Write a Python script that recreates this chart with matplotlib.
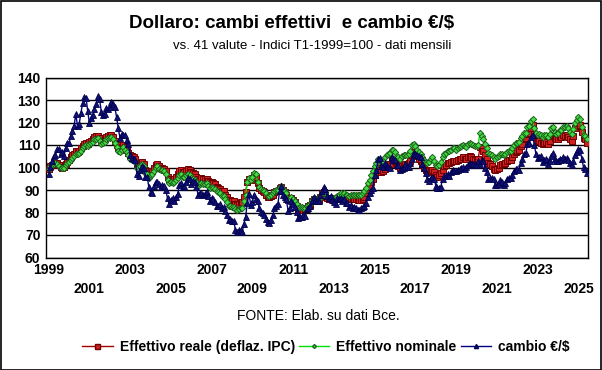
import numpy as np
import matplotlib.pyplot as plt
from matplotlib.lines import Line2D
from matplotlib.patches import Rectangle

# Indici T1-1999=100, dati mensili gen 1999 - giu 2025
reale = [
    99.5, 100.5, 101.2, 101.8, 102.0, 101.8, 101.0, 100.3, 99.8, 100.2, 101.5, 102.5,   # 1999
    103.5, 104.5, 105.5, 106.0, 107.5, 107.0, 107.5, 108.5, 109.5, 110.5, 111.0, 110.5,  # 2000
    111.5, 112.0, 112.5, 113.5, 113.8, 114.0, 113.0, 111.5, 111.8, 112.5, 113.5, 114.0,  # 2001
    114.5, 114.5, 113.5, 112.0, 110.0, 108.5, 108.0, 109.0, 110.0, 109.0, 108.0, 106.5,  # 2002
    105.5, 105.0, 104.5, 104.0, 101.5, 100.5, 101.5, 102.5, 101.5, 99.0, 98.5, 97.0,     # 2003
    98.0, 98.5, 100.0, 101.0, 101.5, 100.5, 100.0, 100.0, 99.5, 98.5, 96.0, 94.5,        # 2004
    95.0, 94.5, 95.0, 96.0, 97.0, 98.5, 99.0, 98.0, 98.0, 98.5, 99.5, 99.0,              # 2005
    98.0, 97.5, 97.0, 96.0, 95.0, 95.0, 95.5, 95.0, 95.0, 95.0, 94.0, 93.5,              # 2006
    93.5, 93.0, 92.5, 91.5, 91.0, 90.5, 89.5, 89.5, 88.0, 87.0, 85.5, 85.5,              # 2007
    85.0, 85.0, 84.0, 83.5, 84.0, 84.5, 84.5, 87.0, 89.0, 93.5, 95.0, 94.5,              # 2008
    95.5, 96.5, 96.0, 93.0, 91.0, 90.0, 89.5, 89.0, 88.0, 87.0, 87.0, 87.5,              # 2009
    88.0, 89.0, 89.5, 89.5, 91.0, 91.5, 90.0, 89.0, 88.0, 85.5, 85.5, 86.5,              # 2010
    85.5, 84.5, 83.0, 81.5, 81.5, 81.5, 81.0, 81.5, 82.0, 83.0, 83.5, 85.0,              # 2011
    86.0, 85.0, 85.0, 85.5, 87.0, 88.5, 89.0, 88.0, 86.5, 86.0, 86.5, 86.0,              # 2012
    85.5, 86.0, 86.5, 86.5, 87.0, 86.5, 86.5, 86.5, 86.5, 86.0, 86.5, 86.0,              # 2013
    86.0, 86.0, 85.5, 85.5, 85.5, 86.0, 87.0, 88.5, 90.0, 91.5, 93.5, 95.0,              # 2014
    96.5, 98.0, 100.0, 99.0, 98.0, 98.5, 99.5, 101.0, 101.5, 101.5, 103.5, 104.0,        # 2015
    103.0, 101.0, 100.5, 100.0, 100.5, 101.0, 101.5, 101.5, 102.0, 103.0, 106.0, 107.0,  # 2016
    106.0, 105.0, 104.0, 103.0, 101.0, 100.0, 99.0, 98.0, 98.5, 99.0, 99.0, 98.0,        # 2017
    96.5, 96.0, 96.5, 97.5, 99.0, 100.5, 101.0, 102.0, 102.0, 102.5, 103.0, 103.0,       # 2018
    103.0, 103.5, 104.0, 104.0, 104.5, 104.0, 104.0, 104.5, 105.0, 104.5, 104.0, 103.5,  # 2019
    103.0, 104.0, 109.0, 108.5, 107.5, 105.5, 104.0, 102.0, 101.5, 100.5, 99.5, 99.0,    # 2020
    99.5, 100.0, 101.0, 101.5, 101.5, 102.0, 103.0, 103.5, 103.5, 104.5, 106.0, 107.0,   # 2021
    107.5, 108.0, 109.5, 110.5, 112.5, 113.0, 115.0, 115.5, 117.5, 119.0, 115.0, 113.0,  # 2022
    112.0, 112.0, 111.0, 110.5, 111.0, 111.5, 110.5, 112.0, 114.0, 114.5, 113.0, 112.5,  # 2023
    112.5, 113.5, 113.5, 114.5, 114.0, 114.5, 113.5, 112.5, 112.0, 114.0, 117.5, 118.5,  # 2024
    120.0, 119.0, 116.0, 113.0, 112.5, 111.0,                                            # 2025
]

nominale = [
    99.5, 100.5, 101.0, 101.5, 101.8, 101.5, 100.8, 100.0, 99.6, 99.8, 101.0, 102.0,     # 1999
    102.5, 103.5, 104.2, 105.0, 106.0, 105.8, 106.5, 107.5, 108.5, 109.5, 110.0, 109.5,  # 2000
    110.5, 111.0, 111.5, 112.5, 112.8, 113.0, 112.0, 110.5, 110.8, 111.5, 112.5, 113.0,  # 2001
    113.0, 113.5, 112.5, 111.0, 109.0, 107.5, 107.0, 108.0, 109.0, 108.0, 107.0, 105.5,  # 2002
    104.0, 103.5, 103.0, 102.5, 100.0, 99.0, 100.5, 101.5, 100.5, 97.5, 97.0, 95.5,      # 2003
    96.5, 97.0, 98.5, 100.0, 100.5, 99.5, 99.0, 99.0, 98.5, 97.0, 94.5, 93.0,            # 2004
    93.5, 93.0, 93.5, 94.5, 95.5, 96.5, 97.0, 96.0, 96.0, 96.5, 97.0, 96.5,              # 2005
    95.5, 95.0, 94.5, 93.5, 92.0, 92.5, 93.0, 92.5, 92.5, 93.0, 92.0, 91.0,              # 2006
    91.5, 91.0, 90.5, 89.5, 89.0, 88.5, 87.5, 87.5, 86.0, 84.5, 83.0, 83.0,              # 2007
    82.5, 82.5, 81.5, 81.0, 81.5, 82.0, 82.0, 85.0, 88.0, 93.5, 95.5, 94.5,              # 2008
    96.0, 97.5, 97.0, 93.5, 91.5, 90.5, 90.0, 89.5, 88.5, 87.5, 87.5, 88.0,              # 2009
    88.5, 89.5, 90.0, 90.0, 91.5, 92.0, 90.5, 89.5, 88.5, 86.0, 86.0, 87.0,              # 2010
    86.0, 85.0, 84.0, 82.0, 82.5, 82.5, 82.0, 82.0, 83.0, 83.5, 84.0, 85.5,              # 2011
    86.5, 85.5, 85.5, 86.0, 87.5, 88.5, 89.0, 88.5, 87.0, 86.5, 87.0, 86.5,              # 2012
    86.5, 87.0, 87.5, 88.0, 88.5, 88.0, 88.5, 88.0, 88.0, 87.5, 88.0, 88.0,              # 2013
    88.0, 88.0, 88.0, 88.0, 88.0, 88.5, 89.5, 91.0, 93.0, 94.5, 96.5, 98.5,              # 2014
    100.5, 102.0, 104.0, 103.0, 102.5, 103.0, 104.5, 105.5, 106.0, 106.5, 108.0, 108.0,  # 2015
    107.0, 105.0, 104.5, 104.0, 105.0, 105.5, 105.5, 105.5, 106.0, 107.5, 110.0, 110.5,  # 2016
    109.5, 108.0, 107.0, 106.0, 104.5, 103.5, 102.5, 102.0, 102.5, 104.0, 104.5, 103.0,  # 2017
    101.0, 100.5, 101.0, 102.5, 104.5, 106.0, 106.5, 107.5, 107.5, 108.0, 108.5, 108.5,  # 2018
    108.0, 108.5, 109.0, 109.5, 110.0, 109.5, 109.0, 110.5, 111.0, 110.5, 110.0, 109.5,  # 2019
    109.5, 110.0, 115.5, 114.0, 112.5, 110.5, 108.5, 106.5, 106.0, 105.5, 104.5, 104.0,  # 2020
    104.5, 105.0, 106.0, 106.0, 105.5, 106.0, 107.0, 107.5, 107.5, 108.5, 110.0, 111.0,  # 2021
    111.0, 111.5, 113.0, 114.0, 115.5, 115.5, 118.0, 118.5, 120.5, 121.5, 117.5, 115.5,  # 2022
    114.5, 115.0, 114.5, 113.5, 114.5, 114.5, 113.5, 115.0, 117.5, 118.0, 116.0, 115.0,  # 2023
    115.5, 116.5, 116.5, 118.0, 118.0, 118.5, 117.5, 116.0, 115.0, 117.0, 120.0, 121.0,  # 2024
    122.5, 121.5, 118.0, 114.5, 114.0, 112.5,                                            # 2025
]

cambio = [
    96.9, 100.2, 103.1, 104.9, 105.6, 108.2, 108.3, 105.9, 107.0, 104.9, 108.7, 111.0,   # 1999
    110.8, 114.2, 116.4, 118.6, 123.9, 118.3, 119.5, 124.2, 128.7, 131.3, 131.1, 125.1,  # 2000
    119.7, 121.8, 123.4, 125.9, 128.4, 131.6, 130.4, 124.7, 123.2, 123.9, 126.4, 125.8,  # 2001
    127.1, 129.0, 128.2, 126.7, 122.4, 117.5, 113.2, 114.8, 114.5, 114.4, 112.1, 110.3,  # 2002
    105.7, 104.2, 103.9, 103.5, 96.9, 96.3, 98.7, 100.8, 100.0, 96.0, 95.9, 91.4,        # 2003
    89.0, 88.8, 91.6, 93.7, 93.5, 92.5, 91.5, 92.2, 91.9, 89.9, 86.4, 83.7,              # 2004
    85.6, 86.3, 85.0, 86.8, 88.4, 92.3, 93.3, 91.3, 91.6, 93.4, 95.3, 94.7,              # 2005
    92.8, 94.0, 93.4, 91.5, 87.9, 88.8, 88.5, 87.6, 88.2, 89.0, 87.2, 85.0,              # 2006
    86.4, 85.9, 84.8, 83.1, 83.1, 83.7, 81.9, 82.4, 80.8, 78.9, 76.5, 77.1,              # 2007
    76.3, 76.1, 72.3, 71.3, 72.2, 72.2, 71.2, 75.0, 78.1, 84.3, 88.2, 83.5,              # 2008
    84.8, 87.8, 86.0, 85.1, 82.2, 80.1, 79.7, 78.7, 77.1, 75.8, 75.3, 76.8,              # 2009
    78.7, 82.0, 82.7, 83.7, 89.4, 92.0, 87.9, 87.1, 85.9, 80.8, 82.2, 84.9,              # 2010
    84.0, 82.3, 80.2, 77.7, 78.2, 78.0, 78.7, 78.3, 81.5, 81.9, 82.8, 85.2,              # 2011
    87.0, 84.9, 85.0, 85.3, 87.8, 89.6, 91.4, 90.5, 87.3, 86.5, 87.5, 85.6,              # 2012
    84.5, 84.0, 86.6, 86.2, 86.5, 85.1, 85.8, 84.3, 84.1, 82.3, 83.2, 81.9,              # 2013
    82.5, 82.2, 81.2, 81.3, 81.8, 82.6, 82.9, 84.3, 87.0, 88.6, 90.0, 91.0,              # 2014
    96.6, 98.9, 103.6, 104.2, 100.7, 100.1, 102.1, 100.8, 100.1, 99.9, 104.6, 103.2,     # 2015
    103.4, 101.2, 101.1, 99.0, 99.3, 100.0, 101.4, 100.1, 100.1, 101.8, 104.0, 106.5,    # 2016
    105.8, 105.5, 105.1, 104.7, 101.5, 100.0, 97.5, 95.1, 94.2, 95.5, 95.6, 94.9,        # 2017
    92.0, 90.9, 91.0, 91.5, 95.0, 96.1, 96.1, 97.2, 96.3, 97.8, 98.8, 98.6,              # 2018
    98.3, 98.9, 99.3, 99.9, 100.4, 99.4, 100.1, 100.9, 102.0, 101.6, 101.6, 101.0,       # 2019
    101.1, 103.0, 101.5, 103.4, 103.0, 99.8, 97.9, 94.9, 95.2, 95.3, 94.8, 92.3,         # 2020
    92.2, 92.8, 94.4, 93.7, 92.4, 93.2, 95.0, 95.4, 95.4, 96.8, 98.4, 99.3,              # 2021
    99.2, 99.0, 101.9, 103.8, 106.1, 106.3, 110.3, 110.9, 113.4, 114.3, 110.1, 106.0,    # 2022
    104.3, 104.8, 104.9, 102.4, 103.3, 103.6, 101.5, 102.9, 105.1, 106.3, 103.9, 103.0,  # 2023
    103.0, 104.0, 103.3, 104.7, 103.8, 104.3, 103.5, 102.0, 101.1, 103.0, 105.6, 107.1,  # 2024
    108.4, 107.8, 103.9, 100.1, 99.5, 97.5,                                              # 2025
]

anni = list(range(1999, 2026, 2))
etichette_y = [60, 70, 80, 90, 100, 110, 120, 130, 140]

plt.rcParams['font.family'] = ['Liberation Sans', 'DejaVu Sans']

x = 1999 + np.arange(len(cambio)) / 12.0

fig = plt.figure(figsize=(6.02, 3.70), dpi=100)
ax = fig.add_axes([46 / 602, 1 - 257.5 / 370, 542 / 602, 180 / 370])

ax.plot(x, reale, color='#A00000', lw=1.0, marker='s', ms=4.0,
        mfc='#D02020', mec='#700000', mew=0.7, zorder=3)
ax.plot(x, nominale, color='#00E000', lw=1.0, marker='D', ms=3.2,
        mfc='#40E040', mec='#206020', mew=0.7, zorder=4)
ax.plot(x, cambio, color='#000080', lw=1.0, marker='^', ms=3.8,
        mfc='#101070', mec='#000050', mew=0.6, zorder=5)

ax.set_ylim(60, 140)
ax.set_xlim(1998.87, 2025.47)
ax.set_yticks(etichette_y)
ax.set_yticklabels([str(v) for v in etichette_y], fontsize=10, fontweight='bold')
ax.yaxis.grid(True, color='black', lw=1.0)
ax.set_axisbelow(True)

ax.set_xticks(anni)
ax.set_xticklabels([str(a) if i % 2 == 0 else '\n' + str(a) for i, a in enumerate(anni)],
                   fontsize=10, fontweight='bold', linespacing=1.45)
ax.tick_params(length=0, pad=4)
for s in ax.spines.values():
    s.set_color('black')
    s.set_linewidth(1.0)

fig.text(292 / 602, 1 - 24 / 370, 'Dollaro: cambi effettivi  e cambio €/$',
         ha='center', va='center', fontsize=13.5, fontweight='bold')
fig.text(312 / 602, 1 - 46 / 370, 'vs. 41 valute - Indici T1-1999=100 - dati mensili',
         ha='center', va='center', fontsize=9.5,
         family=['Liberation Sans Narrow', 'Liberation Sans'])
fig.text(318 / 602, 1 - 316 / 370, 'FONTE: Elab. su dati Bce.',
         ha='center', va='center', fontsize=10,
         family=['Liberation Sans Narrow', 'Liberation Sans'])

handles = [
    Line2D([], [], color='#A00000', lw=1.0, marker='s', ms=3.6, mfc='#D02020', mec='#700000'),
    Line2D([], [], color='#00E000', lw=1.0, marker='D', ms=2.0, mfc='#40E040', mec='#206020'),
    Line2D([], [], color='#000080', lw=1.0, marker='^', ms=3.0, mfc='#101070', mec='#000050'),
]
labels = ['Effettivo reale (deflaz. IPC)', 'Effettivo nominale', 'cambio €/$']
fig.legend(handles, labels, loc='center', bbox_to_anchor=(326 / 602, 1 - 347 / 370),
           ncol=3, frameon=False, prop={'size': 10, 'weight': 'bold'},
           handlelength=2.2, handletextpad=0.5, columnspacing=0.3)

fig.patches.append(Rectangle((0.001, 0.001), 0.997, 0.996, transform=fig.transFigure,
                             fill=False, edgecolor='black', lw=1.2))

fig.savefig('out.png', dpi=100)
